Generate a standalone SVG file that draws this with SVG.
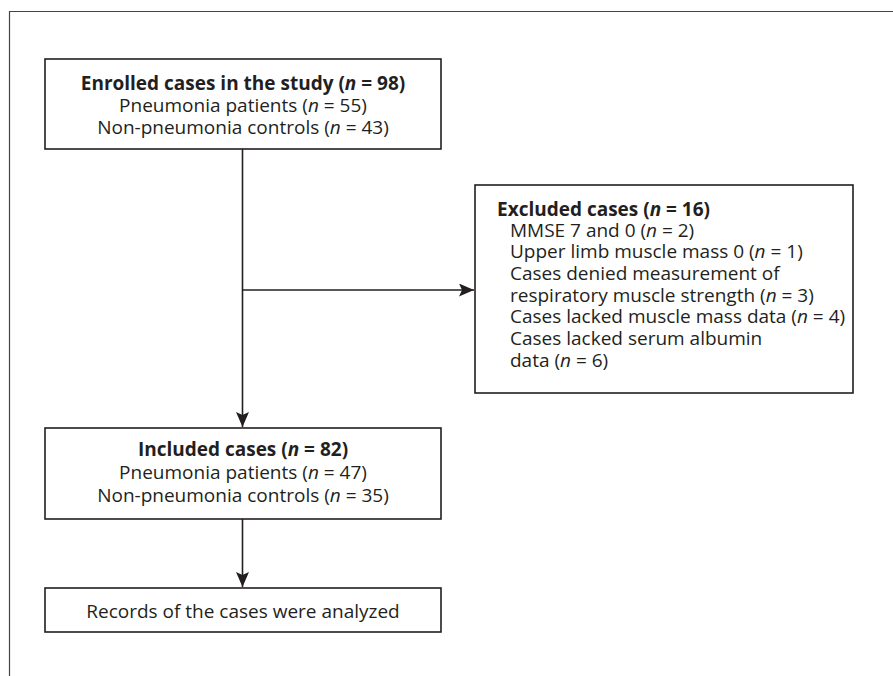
<svg xmlns="http://www.w3.org/2000/svg" width="893" height="676" viewBox="0 0 893 676">
<style>
text{font-family:"Open Sans","Noto Sans","DejaVu Sans",sans-serif;font-size:19px;fill:#231f20}
.b{font-weight:bold}
.i{font-style:italic}
.box{fill:#fff;stroke:#231f20;stroke-width:1.6}
.ln{stroke:#231f20;stroke-width:1.6;fill:none}
.frame{stroke:#444;stroke-width:1.2;fill:none}
</style>
<defs>
<marker id="ah" markerWidth="15" markerHeight="13" refX="15" refY="6.5" orient="auto" markerUnits="userSpaceOnUse">
<path d="M0,0 L15,6.5 L0,13 L3,6.5 Z" fill="#231f20"/>
</marker>
</defs>
<rect width="893" height="676" fill="#fff"/>
<path class="frame" d="M9.5,676 V11.5 H893"/>
<g id="connectors">
<line class="ln" x1="242.5" y1="149" x2="242.5" y2="427" marker-end="url(#ah)"/>
<line class="ln" x1="242.5" y1="290" x2="474" y2="290" marker-end="url(#ah)"/>
<line class="ln" x1="242.5" y1="519" x2="242.5" y2="587" marker-end="url(#ah)"/>
</g>
<g id="enrolled">
<rect class="box" x="45" y="59" width="396" height="90"/>
<text x="243" y="90" text-anchor="middle" class="b">Enrolled cases in the study (<tspan class="i">n</tspan> = 98)</text>
<text x="243" y="112" text-anchor="middle">Pneumonia patients (<tspan class="i">n</tspan> = 55)</text>
<text x="243" y="134" text-anchor="middle">Non-pneumonia controls (<tspan class="i">n</tspan> = 43)</text>
</g>
<g id="excluded">
<rect class="box" x="475" y="185" width="378" height="208"/>
<text x="497" y="216" class="b">Excluded cases (<tspan class="i">n</tspan> = 16)</text>
<text x="510" y="237">MMSE 7 and 0 (<tspan class="i">n</tspan> = 2)</text>
<text x="510" y="258">Upper limb muscle mass 0 (<tspan class="i">n</tspan> = 1)</text>
<text x="510" y="280">Cases denied measurement of</text>
<text x="510" y="302">respiratory muscle strength (<tspan class="i">n</tspan> = 3)</text>
<text x="510" y="323">Cases lacked muscle mass data (<tspan class="i">n</tspan> = 4)</text>
<text x="510" y="345">Cases lacked serum albumin</text>
<text x="510" y="367">data (<tspan class="i">n</tspan> = 6)</text>
</g>
<g id="included">
<rect class="box" x="45" y="428" width="396" height="91"/>
<text x="243" y="456" text-anchor="middle" class="b">Included cases (<tspan class="i">n</tspan> = 82)</text>
<text x="243" y="479" text-anchor="middle">Pneumonia patients (<tspan class="i">n</tspan> = 47)</text>
<text x="243" y="502" text-anchor="middle">Non-pneumonia controls (<tspan class="i">n</tspan> = 35)</text>
</g>
<g id="records">
<rect class="box" x="45" y="588" width="396" height="44"/>
<text x="243" y="618" text-anchor="middle">Records of the cases were analyzed</text>
</g>
</svg>
